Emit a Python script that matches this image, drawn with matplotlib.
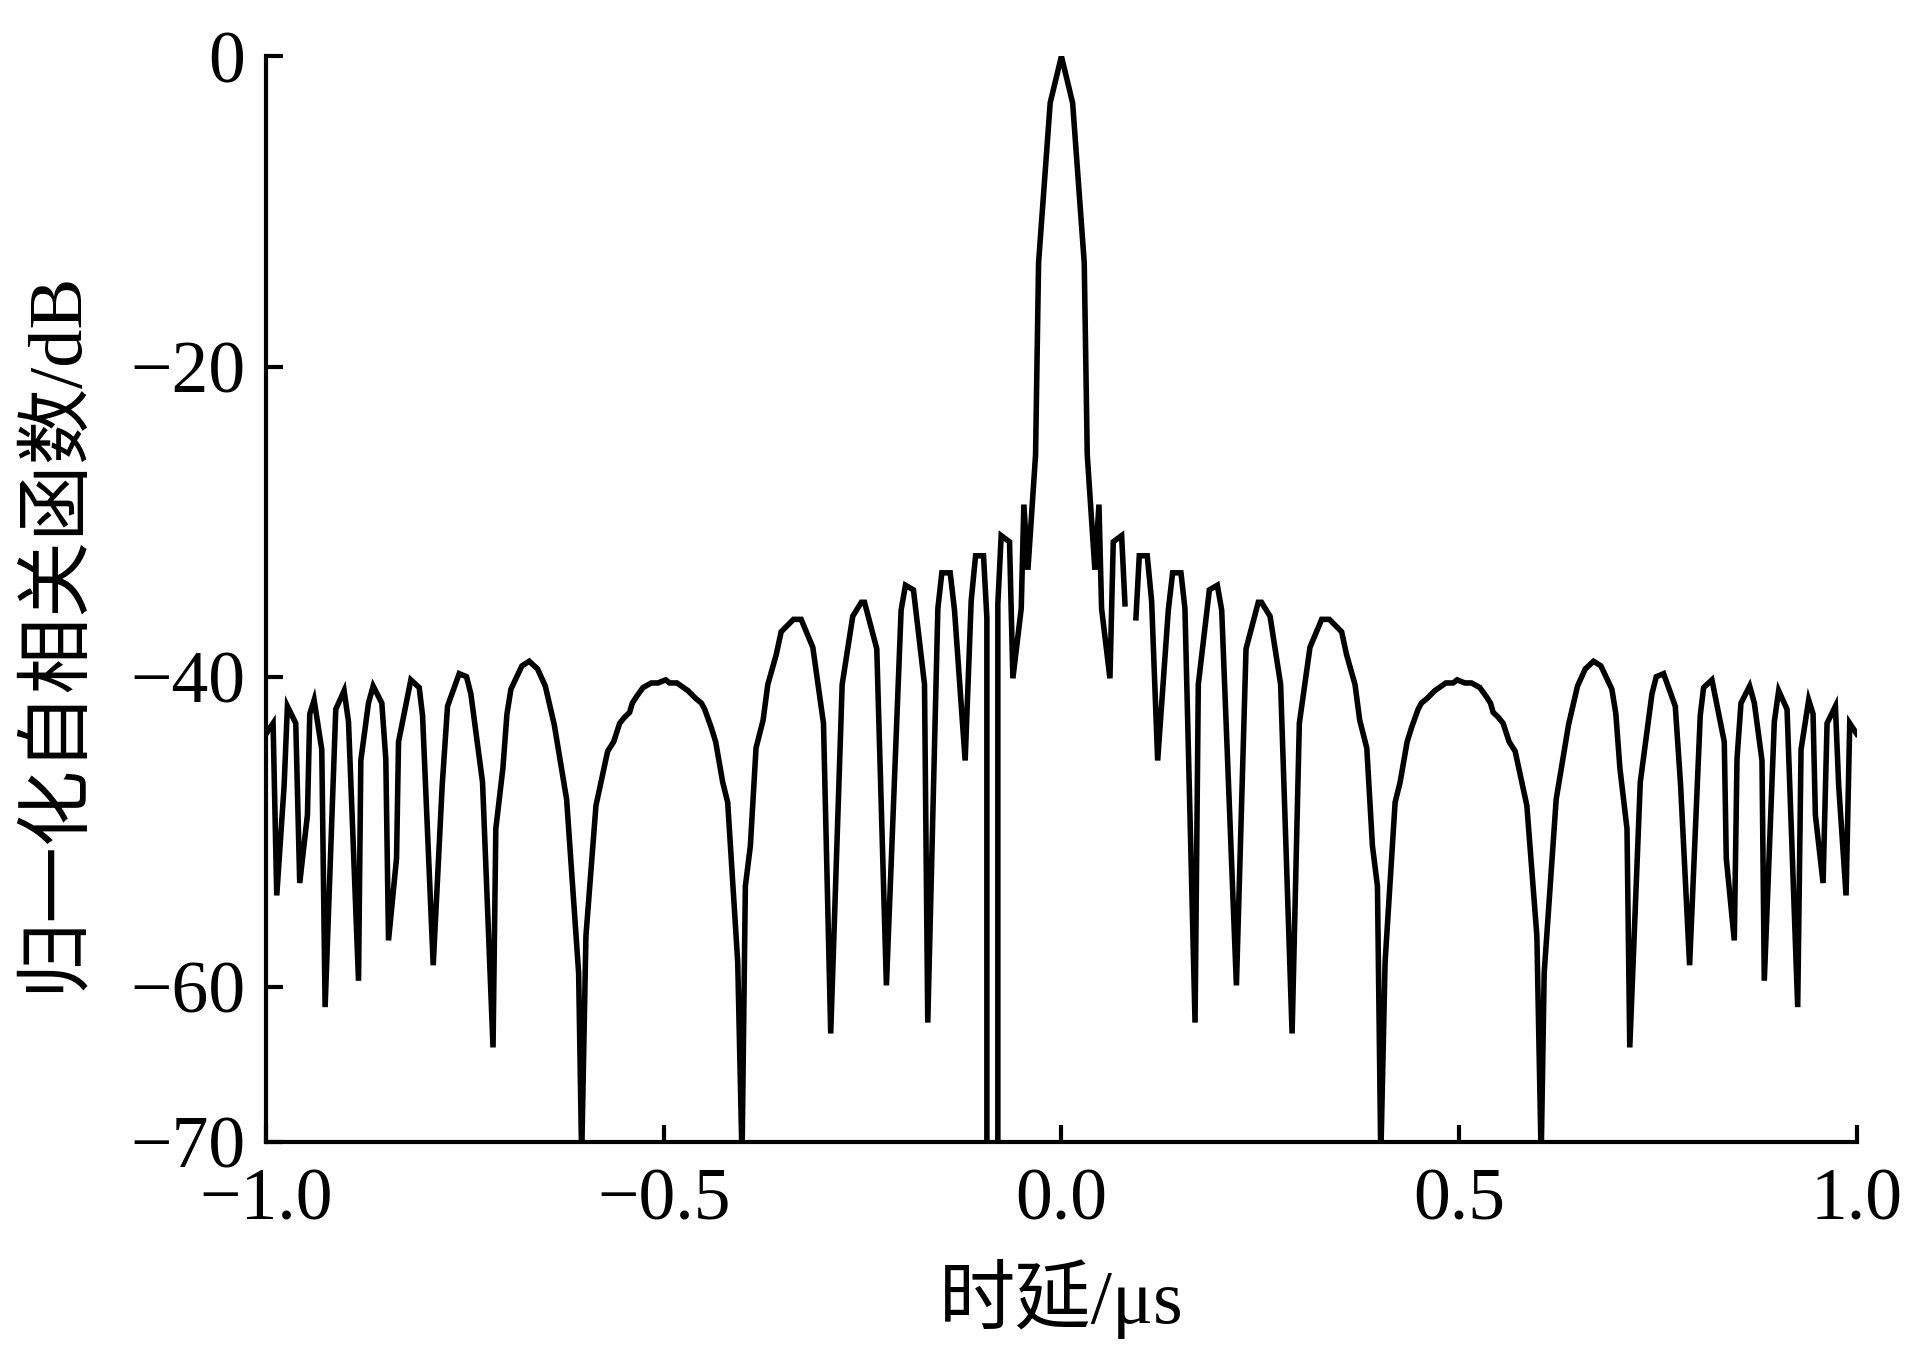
import matplotlib
matplotlib.use("Agg")
import matplotlib.pyplot as plt
import numpy as np

# %% data (delay in us, normalised autocorrelation in dB)
x_left = [
    -1.0000, -0.9910, -0.9864, -0.9771, -0.9730, -0.9625, -0.9575, -0.9478,
    -0.9449, -0.9394, -0.9298, -0.9256, -0.9122, -0.9017, -0.8962, -0.8836,
    -0.8807, -0.8711, -0.8652, -0.8543, -0.8493, -0.8459, -0.8358, -0.8333,
    -0.8178, -0.8073, -0.8031, -0.7897, -0.7784, -0.7717, -0.7570, -0.7478,
    -0.7424, -0.7277, -0.7145, -0.7110, -0.7021, -0.6970, -0.6920, -0.6782,
    -0.6690, -0.6585, -0.6488, -0.6375, -0.6304, -0.6220, -0.6069, -0.6031,
    -0.5977, -0.5851, -0.5788, -0.5704, -0.5629, -0.5553, -0.5490, -0.5428,
    -0.5394, -0.5344, -0.5260, -0.5155, -0.5071, -0.4975, -0.4925, -0.4833,
    -0.4694, -0.4597, -0.4526, -0.4484, -0.4442, -0.4400, -0.4346, -0.4258,
    -0.4195, -0.4069, -0.4015, -0.3973, -0.3910, -0.3839, -0.3750, -0.3691,
    -0.3586, -0.3523, -0.3368, -0.3272, -0.3125, -0.2991, -0.2900, -0.2756,
    -0.2623, -0.2515, -0.2475, -0.2321, -0.2200, -0.2015, -0.1960, -0.1860,
    -0.1721, -0.1680, -0.1553, -0.1503, -0.1398, -0.1344, -0.1210, -0.1134,
    -0.1079, -0.0979, -0.0937, -0.0936, -0.0800, -0.0799, -0.0757, -0.0652,
    -0.0610, -0.0505, -0.0472, -0.0421, -0.0325, -0.0287, -0.0141,
]
y_left = [
    -43.7, -43.0, -54.1, -47.0, -41.9, -43.0, -53.3, -48.9,
    -42.4, -41.5, -44.7, -61.3, -42.1, -40.9, -42.9, -59.6,
    -45.4, -41.7, -40.6, -41.7, -45.3, -57.0, -51.7, -44.2,
    -40.2, -40.7, -42.5, -58.6, -47.0, -41.9, -39.8, -40.0,
    -41.1, -46.8, -63.9, -49.8, -45.9, -42.4, -40.8, -39.3,
    -39.0, -39.5, -40.6, -43.1, -45.3, -47.9, -59.1, -71.0,
    -56.7, -48.3, -46.8, -44.8, -44.2, -43.0, -42.6, -42.3,
    -41.7, -41.3, -40.7, -40.4, -40.4, -40.2, -40.4, -40.4,
    -40.9, -41.4, -41.7, -42.1, -42.7, -43.3, -44.2, -46.8,
    -48.1, -58.4, -71.0, -53.5, -50.9, -44.6, -42.8, -40.5,
    -38.6, -37.1, -36.3, -36.3, -38.1, -43.0, -63.0, -40.5,
    -36.1, -35.2, -35.2, -38.2, -59.9, -35.7, -34.1, -34.4,
    -40.5, -62.3, -35.6, -33.3, -33.3, -35.7, -45.4, -35.1,
    -32.2, -32.2, -36.2, -300.0, -300.0, -35.3, -30.9, -31.3,
    -40.1, -35.6, -28.9, -33.1, -25.7, -13.3, -3.0,
]

x_right = [
    0.0000, 0.0141, 0.0287, 0.0325, 0.0421, 0.0472, 0.0505, 0.0610,
    0.0652, 0.0757, 0.0799, 0.0868, 0.0937, 0.0979, 0.1079, 0.1134,
    0.1210, 0.1344, 0.1398, 0.1503, 0.1553, 0.1680, 0.1721, 0.1860,
    0.1960, 0.2015, 0.2200, 0.2321, 0.2475, 0.2515, 0.2623, 0.2756,
    0.2900, 0.2991, 0.3125, 0.3272, 0.3368, 0.3523, 0.3586, 0.3691,
    0.3750, 0.3839, 0.3910, 0.3973, 0.4015, 0.4069, 0.4195, 0.4258,
    0.4346, 0.4400, 0.4442, 0.4484, 0.4526, 0.4597, 0.4694, 0.4833,
    0.4925, 0.4975, 0.5071, 0.5155, 0.5260, 0.5344, 0.5394, 0.5428,
    0.5490, 0.5553, 0.5629, 0.5704, 0.5788, 0.5851, 0.5977, 0.6031,
    0.6069, 0.6220, 0.6304, 0.6375, 0.6488, 0.6585, 0.6690, 0.6782,
    0.6920, 0.6970, 0.7021, 0.7110, 0.7145, 0.7277, 0.7424, 0.7478,
    0.7570, 0.7717, 0.7784, 0.7897, 0.8031, 0.8073, 0.8178, 0.8333,
    0.8358, 0.8459, 0.8493, 0.8543, 0.8652, 0.8711, 0.8807, 0.8836,
    0.8962, 0.9017, 0.9122, 0.9256, 0.9298, 0.9394, 0.9449, 0.9478,
    0.9575, 0.9625, 0.9730, 0.9771, 0.9864, 0.9910, 1.0000,
]
y_right = [
    0.0, -3.0, -13.3, -25.7, -33.1, -28.9, -35.6, -40.1,
    -31.3, -30.9, -35.3, np.nan, -36.2, -32.2, -32.2, -35.1,
    -45.4, -35.7, -33.3, -33.3, -35.6, -62.3, -40.5, -34.4,
    -34.1, -35.7, -59.9, -38.2, -35.2, -35.2, -36.1, -40.5,
    -63.0, -43.0, -38.1, -36.3, -36.3, -37.1, -38.6, -40.5,
    -42.8, -44.6, -50.9, -53.5, -71.0, -58.4, -48.1, -46.8,
    -44.2, -43.3, -42.7, -42.1, -41.7, -41.4, -40.9, -40.4,
    -40.4, -40.2, -40.4, -40.4, -40.7, -41.3, -41.7, -42.3,
    -42.6, -43.0, -44.2, -44.8, -46.8, -48.3, -56.7, -71.0,
    -59.1, -47.9, -45.3, -43.1, -40.6, -39.5, -39.0, -39.3,
    -40.8, -42.4, -45.9, -49.8, -63.9, -46.8, -41.1, -40.0,
    -39.8, -41.9, -47.0, -58.6, -42.5, -40.7, -40.2, -44.2,
    -51.7, -57.0, -45.3, -41.7, -40.6, -41.7, -45.4, -59.6,
    -42.9, -40.9, -42.1, -61.3, -44.7, -41.5, -42.4, -48.9,
    -53.3, -43.0, -41.9, -47.0, -54.1, -43.0, -43.7,
]

x_ticks = [-1.0, -0.5, 0.0, 0.5, 1.0]
y_ticks = [0, -20, -40, -60, -70]

delay = np.array(x_left + x_right)
acf_db = np.array(y_left + y_right)

# %% plot
serif_cjk = ["Liberation Serif", "Noto Sans CJK SC"]
plt.rcParams["font.family"] = serif_cjk

fig = plt.figure(figsize=(19.09, 13.45), dpi=100)
ax = fig.add_axes([0.1393, 0.1509, 0.8334, 0.8072])

ax.plot(delay, acf_db, color="black", lw=4.0, solid_joinstyle="miter")

ax.set_xlim(-1.0, 1.0)
ax.set_ylim(-70, 0)
ax.set_xticks(x_ticks)
ax.set_xticklabels([f"{v:.1f}".replace("-", "\u2212") for v in x_ticks])
ax.set_yticks(y_ticks)
ax.set_yticklabels([f"{v}".replace("-", "\u2212") for v in y_ticks])

for side in ["top", "right"]:
    ax.spines[side].set_visible(False)
for side in ["left", "bottom"]:
    ax.spines[side].set_linewidth(3.0)

ax.tick_params(axis="both", direction="in", length=12, width=3.0,
               labelsize=53)
ax.tick_params(axis="x", pad=19)
ax.tick_params(axis="y", pad=15)

ax.set_xlabel("时延/μs", fontsize=55)
ax.set_ylabel("归一化自相关函数/dB", fontsize=55)
ax.xaxis.set_label_coords(0.5, -0.108)
ax.yaxis.set_label_coords(-0.110, 0.47)

fig.savefig("out.png", dpi=100)
